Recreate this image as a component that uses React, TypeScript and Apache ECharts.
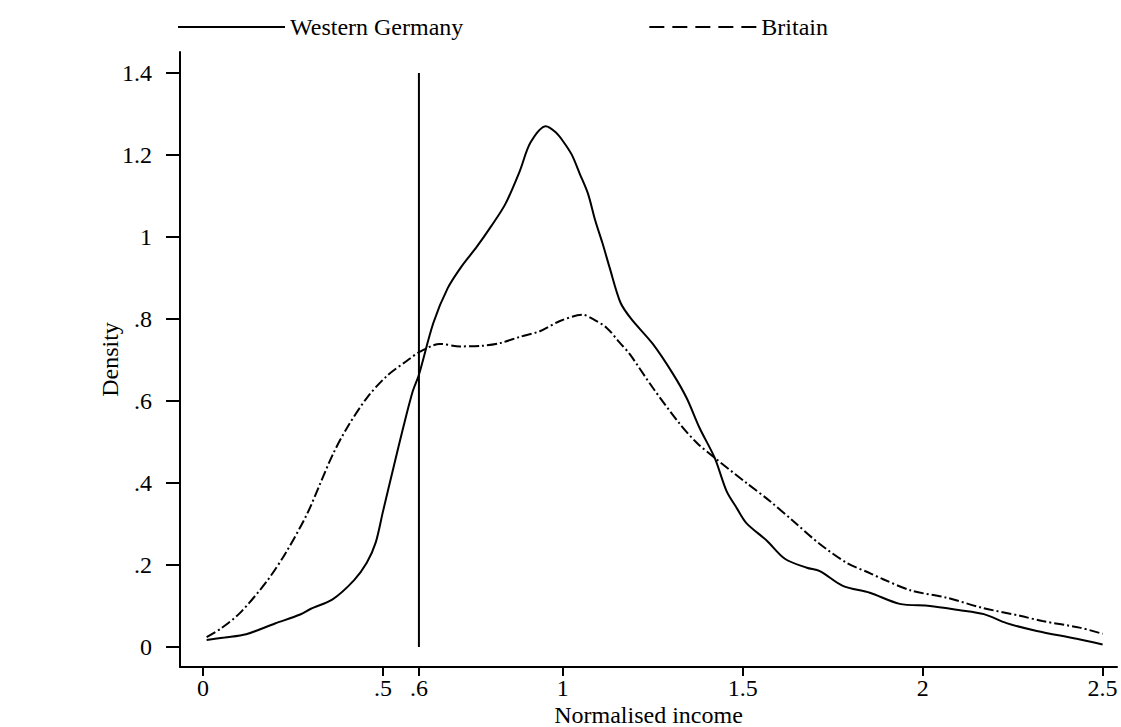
import React, { useEffect, useRef } from "react";
import * as echarts from "echarts";

const FONT = '"Liberation Serif", "Times New Roman", serif';

const westernGermany: number[][] = [
  [0.01, 0.017], [0.06, 0.023], [0.12, 0.031], [0.2, 0.057], [0.27, 0.079],
  [0.3, 0.093], [0.36, 0.116], [0.42, 0.163], [0.455, 0.205], [0.48, 0.255],
  [0.5, 0.33], [0.53, 0.44], [0.556, 0.534], [0.583, 0.624], [0.6, 0.664],
  [0.64, 0.79], [0.68, 0.875], [0.72, 0.93], [0.76, 0.975], [0.8, 1.025],
  [0.84, 1.08], [0.88, 1.16], [0.91, 1.23], [0.953, 1.27], [0.98, 1.255],
  [1.0, 1.234], [1.025, 1.2], [1.047, 1.154], [1.07, 1.105], [1.09, 1.04],
  [1.11, 0.985], [1.13, 0.925], [1.16, 0.84], [1.19, 0.8], [1.25, 0.739],
  [1.306, 0.666], [1.344, 0.607], [1.38, 0.534], [1.422, 0.461], [1.455, 0.38],
  [1.483, 0.339], [1.51, 0.302], [1.567, 0.259], [1.617, 0.215], [1.678, 0.193],
  [1.714, 0.185], [1.778, 0.149], [1.853, 0.132], [1.936, 0.105], [2.02, 0.1],
  [2.1, 0.09], [2.17, 0.08], [2.233, 0.058], [2.317, 0.039], [2.428, 0.02],
  [2.5, 0.006],
];

const britain: number[][] = [
  [0.01, 0.024], [0.05, 0.045], [0.103, 0.083], [0.178, 0.161], [0.233, 0.234],
  [0.289, 0.324], [0.325, 0.397], [0.361, 0.47], [0.4, 0.534], [0.455, 0.607],
  [0.511, 0.661], [0.567, 0.698], [0.603, 0.72], [0.658, 0.739], [0.714, 0.733],
  [0.77, 0.734], [0.825, 0.741], [0.88, 0.756], [0.936, 0.77], [0.992, 0.795],
  [1.056, 0.81], [1.083, 0.8], [1.122, 0.778], [1.158, 0.742], [1.186, 0.714],
  [1.25, 0.632], [1.325, 0.544], [1.372, 0.498], [1.422, 0.461], [1.51, 0.4],
  [1.575, 0.356], [1.64, 0.307], [1.714, 0.251], [1.789, 0.205], [1.853, 0.18],
  [1.89, 0.165], [1.97, 0.137], [2.067, 0.12], [2.167, 0.095], [2.27, 0.076],
  [2.333, 0.063], [2.436, 0.047], [2.5, 0.032],
];

const povertyLine: number[][] = [[0.6, 0], [0.6, 1.4]];

const xTicks = [0, 0.5, 0.6, 1, 1.5, 2, 2.5];
const xTickLabels = ["0", ".5", ".6", "1", "1.5", "2", "2.5"];
const yTicks = [0, 0.2, 0.4, 0.6, 0.8, 1, 1.2, 1.4];
const yTickLabels = ["0", ".2", ".4", ".6", ".8", "1", "1.2", "1.4"];

const seriesNames = ["Western Germany", "Britain"];

function lookup(ticks: number[], labels: string[], v: number): string {
  for (let i = 0; i < ticks.length; i++) {
    if (Math.abs(ticks[i] - v) < 1e-6) return labels[i];
  }
  return "";
}

export default function App() {
  const ref = useRef<HTMLDivElement>(null);

  useEffect(() => {
    if (!ref.current) return;
    const chart = echarts.init(ref.current, undefined, { renderer: "svg" });
    const black = "#000";
    chart.setOption({
      animation: false,
      backgroundColor: "#fff",
      textStyle: { fontFamily: FONT, color: black },
      legend: {
        left: 173,
        top: 10,
        itemWidth: 107,
        itemHeight: 2,
        itemGap: 186,
        textStyle: { fontFamily: FONT, fontSize: 24, color: black },
        data: [
          { name: seriesNames[0], icon: "rect" },
          {
            name: seriesNames[1],
            icon:
              "path://M0 0H15V2H0Z M23 0H38V2H23Z M46 0H61V2H46Z M69 0H84V2H69Z M92 0H107V2H92Z",
          },
        ],
      },
      grid: {
        left: 180,
        right: 4,
        top: 52,
        bottom: 60,
        containLabel: false,
        outerBoundsMode: "none",
      },
      xAxis: {
        type: "value",
        min: -0.064,
        max: 2.54,
        splitLine: { show: false },
        axisLine: { show: true, onZero: false, lineStyle: { color: black, width: 2 } },
        axisTick: { show: true, customValues: xTicks, length: 9, lineStyle: { color: black, width: 2 } },
        axisLabel: {
          customValues: xTicks,
          formatter: (v: number) => lookup(xTicks, xTickLabels, v),
          fontFamily: FONT,
          fontSize: 24,
          color: black,
          margin: 9,
        },
        name: "Normalised income",
        nameLocation: "middle",
        nameGap: 36,
        nameMoveOverlap: false,
        nameTextStyle: { fontFamily: FONT, fontSize: 24, color: black },
      },
      yAxis: {
        type: "value",
        min: -0.049,
        max: 1.451,
        splitLine: { show: false },
        axisLine: { show: true, onZero: false, lineStyle: { color: black, width: 2 } },
        axisTick: { show: true, customValues: yTicks, length: 14, lineStyle: { color: black, width: 2 } },
        axisLabel: {
          customValues: yTicks,
          formatter: (v: number) => lookup(yTicks, yTickLabels, v),
          fontFamily: FONT,
          fontSize: 24,
          color: black,
          margin: 28,
        },
        name: "Density",
        nameLocation: "middle",
        nameGap: 58,
        nameMoveOverlap: false,
        nameTextStyle: { fontFamily: FONT, fontSize: 24, color: black },
      },
      series: [
        {
          name: seriesNames[0],
          type: "line",
          data: westernGermany,
          symbol: "none",
          smooth: 0.3,
          itemStyle: { color: black },
          lineStyle: { color: black, width: 2 },
        },
        {
          name: seriesNames[1],
          type: "line",
          data: britain,
          symbol: "none",
          smooth: 0.3,
          itemStyle: { color: black },
          lineStyle: { color: black, width: 2, type: [10, 3, 2, 3] },
        },
        {
          name: "0.6 threshold",
          type: "line",
          data: povertyLine,
          symbol: "none",
          itemStyle: { color: black },
          lineStyle: { color: black, width: 2 },
        },
      ],
    });
    return () => chart.dispose();
  }, []);

  return (
    <div
      ref={ref}
      style={{ position: "fixed", left: 0, top: 0, width: 1121, height: 727, background: "#fff" }}
    />
  );
}
